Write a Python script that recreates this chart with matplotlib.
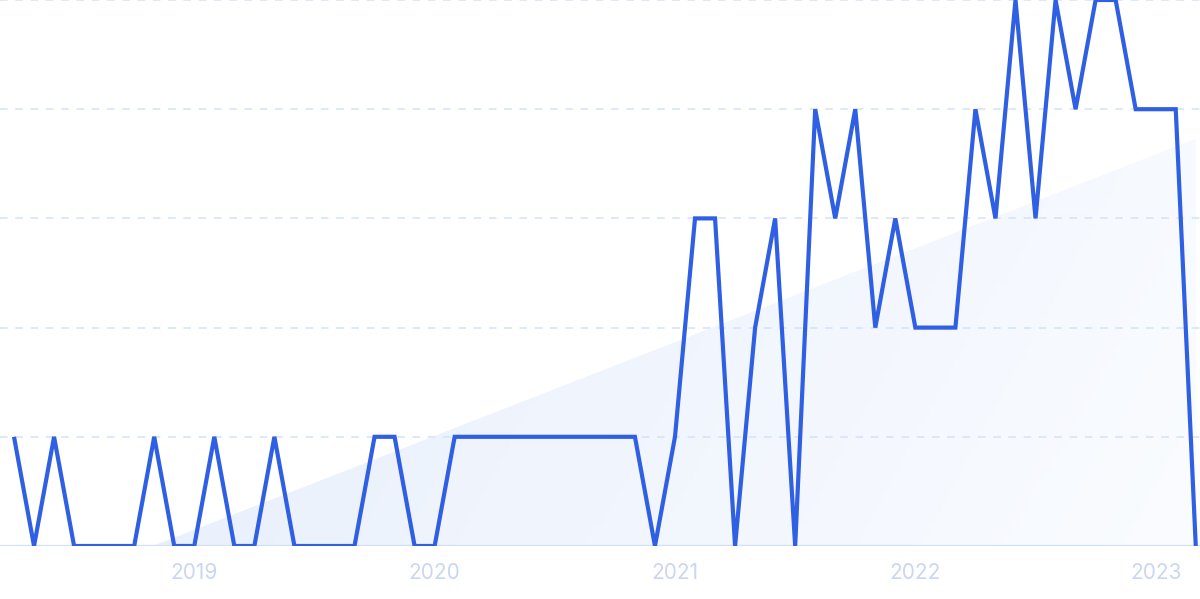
import numpy as np
import matplotlib
matplotlib.use("Agg")
import matplotlib.pyplot as plt
from matplotlib.colors import LinearSegmentedColormap

plt.rcParams['font.family'] = ['Inter', 'DejaVu Sans']

# monthly values, Apr 2018 .. Mar 2023
values = [1, 0, 1, 0, 0, 0, 0, 1, 0, 0,
          1, 0, 0, 1, 0, 0, 0, 0, 1, 1,
          0, 0, 1, 1, 1, 1, 1, 1, 1, 1,
          1, 1, 0, 1, 3, 3, 0, 2, 3, 0,
          4, 3, 4, 2, 3, 2, 2, 2, 4, 3,
          5, 3, 5, 4, 5, 5, 4, 4, 4, 0]
year_labels = ['2019', '2020', '2021', '2022', '2023']
year_idx = [9, 21, 33, 45, 57]

x = np.arange(len(values))
y = np.array(values, dtype=float)

fig = plt.figure(figsize=(12, 5.99), dpi=100)
ax = fig.add_axes([0, 53 / 599, 1, 546 / 599])

# trend line (linear fit), shaded where above zero
k, b = np.polyfit(x, y, 1)
xt = np.linspace(x[0], x[-1], 400)
yt = np.clip(k * xt + b, 0, None)
poly = ax.fill_between(xt, 0, yt, color='none', lw=0)
cmap = LinearSegmentedColormap.from_list('f', ['#e1ecfb', '#eff4fd', '#fafcff'])
gx, gy = np.meshgrid(np.linspace(0, 1, 200), np.linspace(0, 1, 50))
grad = gx * 0.8 + (1 - gy) * 0.2
im = ax.imshow(grad, cmap=cmap, extent=[x[0], x[-1], 0, 5], aspect='auto',
               origin='lower', zorder=1)
im.set_clip_path(poly.get_paths()[0], transform=ax.transData)

for lvl in [1, 2, 3, 4, 5]:
    ax.axhline(lvl, color='#d3e3f8', lw=1.1, ls=(0, (5, 5)), zorder=2)
ax.axhline(0, color='#cfe0f8', lw=1.6, zorder=2)

ax.plot(x, y, color='#2f5fe3', lw=3.0, zorder=3, solid_joinstyle='miter',
        solid_capstyle='butt')

ax.set_xlim(-14 / 20.03, (1200 - 14) / 20.03)
ax.set_ylim(0, 5)
ax.set_xticks(year_idx)
ax.set_xticklabels(year_labels)
ax.tick_params(axis='x', length=0, pad=12, labelsize=15, labelcolor='#cbd6f3')
ax.set_yticks([])
for s in ax.spines.values():
    s.set_visible(False)

fig.savefig('out.png', dpi=100)
